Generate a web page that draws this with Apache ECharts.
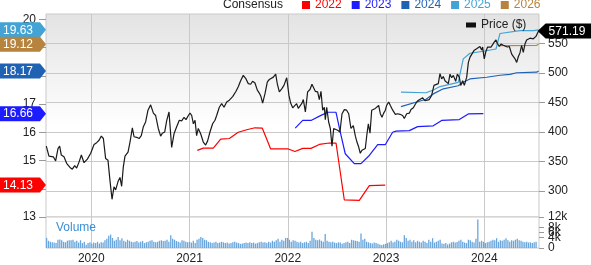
<!DOCTYPE html>
<html><head><meta charset="utf-8">
<script src="https://cdn.jsdelivr.net/npm/echarts@6/dist/echarts.min.js"></script>
<style>html,body{margin:0;padding:0;background:#fff}#c{width:591px;height:265px}</style>
</head><body><div id="c"></div>
<script>
const FONT = 'Liberation Sans, Arial, sans-serif';
const xMinYear = 2019.539, xMaxYear = 2024.557;
const yearTicks = [2020, 2021, 2022, 2023, 2024];
const priceTicks = [300, 350, 400, 450, 500, 550];
const epsTickMarks = [13, 14, 15, 16, 17, 18, 19, 20];
const epsLabels = [13, 15, 16, 17, 20];
const volumeTicksK = [0, 2, 4, 6, 8, 10, 12];

const seriesNames = ['2022', '2023', '2024', '2025', '2026'];

const priceYears = [2019.542,2019.569,2019.587,2019.614,2019.637,2019.661,2019.678,2019.695,2019.722,2019.749,2019.783,2019.807,2019.831,2019.851,2019.875,2019.899,2019.926,2019.960,2019.994,
2020.028,2020.055,2020.079,2020.102,2020.123,2020.146,2020.170,2020.190,2020.211,2020.231,2020.248,2020.272,2020.292,2020.309,2020.326,2020.343,2020.374,2020.394,2020.418,2020.435,2020.462,2020.486,2020.509,2020.530,2020.553,2020.577,2020.604,2020.632,2020.655,2020.682,2020.706,2020.723,2020.747,2020.767,2020.791,2020.808,
2020.818,2020.842,2020.869,2020.896,2020.920,2020.944,2020.964,2020.988,2021.005,2021.022,2021.039,2021.056,2021.072,2021.089,2021.113,2021.140,2021.164,2021.184,2021.208,2021.235,2021.259,2021.276,2021.303,2021.327,2021.351,2021.378,2021.405,2021.422,2021.439,2021.452,2021.473,2021.497,2021.520,2021.547,2021.571,2021.598,2021.622,2021.642,2021.666,2021.690,2021.710,2021.727,2021.744,2021.768,2021.792,2021.812,2021.832,2021.853,2021.877,2021.894,2021.914,2021.938,2021.961,2021.989,2022.012,2022.029,2022.050,2022.070,2022.090,2022.107,
2022.145,2022.158,2022.179,2022.202,2022.226,2022.246,2022.263,2022.280,2022.304,2022.321,2022.338,2022.355,2022.372,2022.382,2022.396,2022.416,2022.433,2022.450,2022.467,2022.484,2022.508,2022.531,2022.552,2022.576,2022.599,2022.620,2022.643,2022.667,2022.688,2022.704,2022.721,2022.738,2022.755,2022.772,2022.789,2022.806,2022.820,2022.837,2022.854,2022.871,2022.891,2022.908,2022.925,2022.942,2022.959,2022.976,2022.993,2023.006,2023.027,2023.044,2023.068,2023.095,2023.118,2023.142,2023.169,2023.186,2023.210,2023.237,2023.254,2023.278,2023.298,2023.322,
2023.373,2023.396,2023.413,2023.440,2023.464,2023.488,2023.508,2023.532,2023.549,2023.566,2023.583,2023.600,2023.617,2023.634,2023.651,2023.668,2023.685,2023.709,2023.726,2023.746,2023.760,2023.780,2023.797,2023.810,2023.821,2023.838,2023.855,2023.871,2023.895,2023.922,2023.939,2023.956,2023.973,2023.983,2024.000,2024.017,2024.034,2024.051,2024.068,2024.085,2024.099,2024.119,2024.133,2024.153,2024.170,2024.194,2024.211,2024.234,2024.255,2024.279,2024.296,2024.313,2024.330,2024.347,2024.363,2024.380,2024.397,2024.414,2024.431,2024.448,2024.465,2024.482,2024.499,2024.526,2024.540,2024.553];
const priceValues = [376,359,357,358,351,372,376,361,358,347,340,337,343,339,349,361,348,354,364,
379,382,386,393,389,355,352,318,286,307,302,316,323,308,341,359,366,383,407,392,391,389,394,409,417,437,446,432,428,406,393,398,400,419,434,431,
374,397,409,420,419,425,421,428,432,428,414,420,394,406,397,383,378,385,400,414,420,428,442,448,442,451,454,451,460,459,469,477,487,496,491,482,481,486,483,471,466,460,449,465,485,489,486,493,498,481,468,473,479,492,462,449,441,438,448,440,
449,455,434,468,472,481,482,469,468,455,469,437,442,421,442,417,406,376,406,403,403,400,431,438,437,431,406,411,393,383,375,364,369,366,372,397,414,398,437,434,440,441,445,431,425,432,437,445,451,445,437,430,431,430,428,423,431,432,438,441,447,453,
458,453,456,455,462,479,477,482,499,490,494,487,490,482,498,492,496,486,498,493,479,487,479,476,493,518,527,530,538,541,538,545,539,544,524,537,544,547,544,548,552,556,550,545,549,547,548,544,545,532,530,524,518,528,534,547,535,549,556,555,559,558,558,562,567,571.19];

const est2022Years = [2021.079,2021.140,2021.242,2021.317,2021.405,2021.496,2021.582,2021.666,2021.740,2021.826,2022.005,2022.073,2022.152,2022.236,2022.321,2022.422,2022.491,2022.575,2022.728,2022.830,2022.992];
const est2022Values = [15.36,15.44,15.44,15.76,15.78,16.00,16.09,16.16,16.15,15.41,15.41,15.32,15.43,15.43,15.57,15.62,15.62,13.61,13.59,14.11,14.13];
const est2023Years = [2022.076,2022.152,2022.236,2022.338,2022.406,2022.491,2022.531,2022.585,2022.677,2022.745,2022.830,2022.915,2022.992,2023.067,2023.101,2023.237,2023.322,2023.481,2023.566,2023.746,2023.837,2023.990];
const est2023Values = [16.15,16.42,16.42,16.60,16.71,16.71,16.06,15.24,14.89,14.89,15.18,15.56,15.56,16.00,16.04,16.06,16.20,16.23,16.42,16.45,16.65,16.66];
const est2024Years = [2023.152,2023.407,2023.481,2023.583,2023.735,2023.786,2023.854,2024.024,2024.160,2024.262,2024.330,2024.533,2024.553];
const est2024Values = [16.91,17.17,17.36,17.54,17.65,17.77,17.89,17.95,18.02,18.05,18.11,18.13,18.17];
const est2025Years = [2023.152,2023.407,2023.481,2023.549,2023.735,2023.786,2023.854,2023.990,2024.119,2024.160,2024.364,2024.500,2024.553];
const est2025Values = [17.42,17.40,17.50,17.62,17.77,18.60,18.80,18.87,18.95,19.50,19.60,19.60,19.63];
const est2026Years = [2024.160,2024.533,2024.553];
const est2026Values = [19.07,19.08,19.12];

const badgeValues = [19.63, 19.12, 18.17, 16.66, 14.13];
const lastPrice = 571.19;

const volumeStart = '2019-07-19';
const volumeK = [
3.9,2.8,2.4,2.2,2.1,1.9,3.2,3.3,3.0,2.4,2.2,2.8,3.0,3.0,3.2,2.4,2.8,2.1,3.0,1.9,2.4,1.3,1.9,2.2,
1.6,2.1,1.9,2.4,1.7,2.2,2.1,3.0,3.6,4.7,5.2,3.9,2.8,3.2,4.3,3.0,3.8,2.8,2.4,3.2,2.8,2.4,2.2,2.4,2.7,
2.1,2.4,2.7,1.9,2.2,2.4,2.8,3.0,2.4,2.2,2.4,2.8,3.0,2.7,2.8,3.2,2.4,4.9,3.6,3.2,2.7,2.4,2.1,3.0,2.8,2.4,2.2,
2.4,2.1,2.8,1.9,3.2,3.6,4.3,3.9,3.2,3.0,2.4,2.2,1.9,2.1,2.4,1.9,2.1,2.4,2.2,1.9,2.1,1.7,1.9,2.2,2.4,2.1,
1.9,1.6,1.7,1.9,2.1,1.9,2.2,1.9,2.1,1.7,1.9,2.2,2.4,2.1,2.2,1.9,2.4,2.1,2.8,2.4,3.0,3.6,2.4,3.2,2.8,3.9,
3.9,3.2,2.4,3.0,2.8,2.4,2.1,2.4,1.9,2.2,2.4,1.9,2.8,6.3,3.9,3.2,3.0,3.3,2.8,2.4,5.4,2.8,2.4,2.2,2.4,2.1,
1.9,2.2,2.1,1.6,1.9,2.2,2.4,1.9,3.2,3.0,2.8,2.7,2.4,5.6,3.2,3.6,2.4,2.2,1.9,1.7,2.1,1.9,1.6,1.4,1.2,1.4,
1.6,1.9,2.2,2.8,2.1,2.4,3.2,2.8,2.4,2.2,4.9,3.9,2.8,3.2,2.4,3.0,2.2,2.8,2.4,2.1,2.8,2.4,1.9,3.2,2.4,3.8,
2.1,2.4,2.8,3.2,1.7,1.6,1.9,1.4,1.7,2.2,2.4,2.1,2.3,2.8,3.2,2.4,2.1,1.9,3.2,3.0,2.4,2.1,3.6,11.0,2.4,2.8,
2.4,1.9,2.2,2.4,2.8,3.2,3.0,3.8,2.4,3.0,2.8,3.2,3.8,3.0,2.4,3.0,2.8,3.2,3.6,3.0,2.8,2.4,2.2,2.4,2.1,2.2,1.9,2.2,2.4];

const colors = {'2022':'#ff0000','2023':'#1c1cff','2024':'#1f62b4','2025':'#42a3d4','2026':'#b6843f'};
const badgeColors = ['#42a3d4','#b6843f','#1f62b4','#1c1cff','#ff0000'];

function dateToYear(ts){const d=new Date(ts);const yr=d.getUTCFullYear();const s=Date.UTC(yr,0,1),e=Date.UTC(yr+1,0,1);return yr+(ts-s)/(e-s);}
function pairs(xs, vs){return xs.map((x,i)=>[x, vs[i]]);}
const volStartTs = Date.parse(volumeStart + 'T00:00:00Z');
const volumeData = volumeK.map((v,i)=>[dateToYear(volStartTs + i*7*86400000), v]);

const estYears = [est2022Years, est2023Years, est2024Years, est2025Years, est2026Years];
const estValues = [est2022Values, est2023Values, est2024Values, est2025Values, est2026Values];

const gridLineStyle = {color:'#c9c9c9', type:'solid', width:1};
const estSeries = seriesNames.map((n,i)=>({
  name:n, type:'line', xAxisIndex:0, yAxisIndex:0, data:pairs(estYears[i], estValues[i]),
  showSymbol:false, symbol:'none', color:colors[n], lineStyle:{width:1.2, color:colors[n]}, z:3
}));

const chart = echarts.init(document.getElementById('c'), null, {renderer:'canvas'});
chart.setOption({
  animation:false,
  textStyle:{fontFamily:FONT},
  title:[
    {text:'Consensus', left:223, top:-1, padding:0, textStyle:{fontSize:12, fontWeight:'normal', color:'#222', fontFamily:FONT}},
    {text:'Volume', left:56, top:222, padding:0, textStyle:{fontSize:12, fontWeight:'normal', color:'#3d8fd5', fontFamily:FONT}}
  ],
  legend:[
    {left:302, top:-1, padding:0, itemWidth:8, itemHeight:8, itemGap:10, icon:'rect', selectedMode:false,
     data:seriesNames.map(n=>({name:n, textStyle:{color:colors[n]}})),
     textStyle:{fontSize:12, fontFamily:FONT}},
    {left:466, top:19, padding:0, itemWidth:10, itemHeight:5, icon:'rect', selectedMode:false,
     data:['Price ($)'], textStyle:{fontSize:12, color:'#222', fontFamily:FONT}}
  ],
  grid:[
    {left:46, right:52, top:14, height:203, show:true, borderColor:'#c9c9c9', borderWidth:1,
     backgroundColor:{type:'linear', x:0, y:0, x2:0, y2:1, colorStops:[{offset:0,color:'#e3e3e3'},{offset:0.55,color:'#ffffff'},{offset:1,color:'#ffffff'}]}},
    {left:46, right:52, top:217, height:37, show:true, borderColor:'#c9c9c9', borderWidth:1, backgroundColor:'#ffffff'}
  ],
  xAxis:[
    {type:'value', gridIndex:0, min:xMinYear, max:xMaxYear, show:false},
    {type:'value', gridIndex:1, min:xMinYear, max:xMaxYear, axisLine:{show:false}, axisTick:{show:false}, splitLine:{show:false},
     axisLabel:{customValues:yearTicks, formatter:v=>String(Math.round(v)), margin:5, color:'#222', fontSize:12, fontFamily:FONT}}
  ],
  yAxis:[
    {type:'value', gridIndex:0, position:'left', min:13, max:20.19, axisLine:{show:false}, splitLine:{show:false},
     axisTick:{show:true, customValues:epsTickMarks, length:7, lineStyle:{color:'#999'}},
     axisLabel:{customValues:epsLabels, margin:10, color:'#222', fontSize:12, fontFamily:FONT}},
    {type:'value', gridIndex:0, position:'right', min:256, max:600, axisLine:{show:false}, splitLine:{show:false},
     axisTick:{show:true, customValues:priceTicks, length:6, lineStyle:{color:'#999'}},
     axisLabel:{customValues:priceTicks, margin:9, color:'#222', fontSize:12, fontFamily:FONT}},
    {type:'value', gridIndex:1, position:'right', min:0, max:12, axisLine:{show:false}, splitLine:{show:false},
     axisTick:{show:true, customValues:volumeTicksK, length:5, lineStyle:{color:'#999'}},
     axisLabel:{customValues:volumeTicksK, hideOverlap:false, showMinLabel:true, showMaxLabel:true,
       formatter:v=>v===0?'0':v+'k', margin:9, color:'#222', fontSize:12, fontFamily:FONT}}
  ],
  series:[
    ...estSeries,
    {name:'Price ($)', type:'line', xAxisIndex:0, yAxisIndex:1, data:pairs(priceYears, priceValues),
     showSymbol:false, symbol:'none', color:'#111', lineStyle:{width:1.2, color:'#1a1a1a'}, z:4,
     markLine:{silent:true, z:1, symbol:['none','none'], label:{show:false}, lineStyle:gridLineStyle, emphasis:{disabled:true},
       data:[...priceTicks.map(v=>({yAxis:v})), ...yearTicks.map(y=>({xAxis:y}))]}},
    {name:'Volume', type:'bar', xAxisIndex:1, yAxisIndex:2, data:volumeData, barWidth:1.3, itemStyle:{color:'#69a6dd'}, z:3,
     markLine:{silent:true, z:1, symbol:['none','none'], label:{show:false}, lineStyle:gridLineStyle, emphasis:{disabled:true},
       data:yearTicks.map(y=>({xAxis:y}))}},
    {name:'badges', type:'custom', xAxisIndex:0, yAxisIndex:0, z:10, silent:true,
     data:badgeValues.map(v=>[xMinYear, v]),
     renderItem:function(params, api){
       const p = api.coord([api.value(0), api.value(1)]);
       const h = 15, xr = p[0]-6;
       return {type:'group', children:[
         {type:'polygon', shape:{points:[[0,p[1]-h/2],[xr,p[1]-h/2],[p[0],p[1]],[xr,p[1]+h/2],[0,p[1]+h/2]]}, style:{fill:badgeColors[params.dataIndex]}},
         {type:'text', style:{text:api.value(1).toFixed(2), x:3, y:p[1]+0.5, verticalAlign:'middle', fill:'#fff', font:'12px '+FONT}}
       ]};
     }},
    {name:'lastPrice', type:'custom', xAxisIndex:0, yAxisIndex:1, z:10, silent:true,
     data:[[priceYears[priceYears.length-1], lastPrice]],
     renderItem:function(params, api){
       const p = api.coord([api.value(0), api.value(1)]);
       const h = 15, xl = p[0]+7, tip = p[0]-1;
       return {type:'group', children:[
         {type:'polygon', shape:{points:[[tip,p[1]],[xl,p[1]-h/2],[600,p[1]-h/2],[600,p[1]+h/2],[xl,p[1]+h/2]]}, style:{fill:'#000'}},
         {type:'text', style:{text:api.value(1).toFixed(2), x:xl+3, y:p[1]+0.5, verticalAlign:'middle', fill:'#fff', font:'12px '+FONT}}
       ]};
     }}
  ]
});
</script></body></html>
